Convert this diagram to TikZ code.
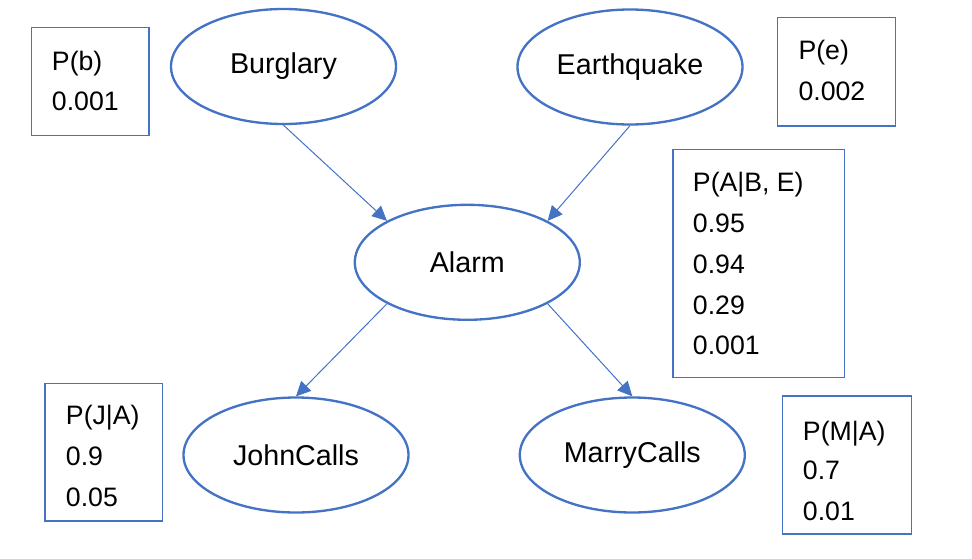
\documentclass[tikz,border=0pt]{standalone}
\usepackage{fontspec}
\setmainfont{Liberation Sans}
\usetikzlibrary{arrows.meta,shapes.geometric}
\definecolor{officeblue}{RGB}{68,114,196}
\begin{document}
\begin{tikzpicture}[x=0.75pt,y=-0.75pt,
  varnode/.style={ellipse,draw=officeblue,line width=1.75pt,minimum width=168.75pt,minimum height=86.25pt,inner sep=0pt,font=\fontsize{21.5pt}{25pt}\selectfont},
  cptbox/.style={rectangle,draw=officeblue,line width=1pt,inner sep=0pt},
  cpttext/.style={anchor=base west,inner sep=0pt,font=\fontsize{20pt}{24pt}\selectfont},
  edge/.style={draw=officeblue,line width=0.75pt,-{Triangle[length=11pt,width=10.5pt]}}]
\useasboundingbox (0,0) rectangle (972,558);
% variables
\node[varnode] (burglary) at (283.5,66.5) {Burglary};
\node[varnode] (earthquake) at (630,67) {Earthquake};
\node[varnode] (alarm) at (467.3,262.3) {Alarm};
\node[varnode] (john) at (296,455) {JohnCalls};
\node[varnode] (marry) at (632.3,455) {MarryCalls};
% edges
\draw[edge] (burglary.south) -- (alarm.north west);
\draw[edge] (earthquake.south) -- (alarm.north east);
\draw[edge] (alarm.south west) -- (john.north);
\draw[edge] (alarm.south east) -- (marry.north);
% CPT boxes
\node[cptbox,minimum width=87.98pt,minimum height=81pt] (boxB) at (90.35,81.7) {};
\node[cptbox,minimum width=88.5pt,minimum height=81.5pt] (boxE) at (836.7,71.65) {};
\node[cptbox,line width=1.2pt,minimum width=128.7pt,minimum height=171pt] (boxA) at (758.5,263.3) {};
\node[cptbox,minimum width=88pt,minimum height=103.3pt] (boxJ) at (103.65,452.15) {};
\node[cptbox,minimum width=96.75pt,minimum height=103.5pt] (boxM) at (847.2,465) {};
% CPT texts
\node[cpttext] (tB1) at (51.7,70) {P(b)};
\node[cpttext] (tB2) at (51.7,110) {0.001};
\node[cpttext] (tE1) at (798.3,59.3) {P(e)};
\node[cpttext] (tE2) at (798.3,100) {0.002};
\node[cpttext] (tA1) at (692.7,191.7) {P(A|B, E)};
\node[cpttext] (tA2) at (692.7,232.5) {0.95};
\node[cpttext] (tA3) at (692.7,273.3) {0.94};
\node[cpttext] (tA4) at (692.7,314.1) {0.29};
\node[cpttext] (tA5) at (692.7,354.9) {0.001};
\node[cpttext] (tJ1) at (65.7,424.3) {P(J|A)};
\node[cpttext] (tJ2) at (65.7,465.7) {0.9};
\node[cpttext] (tJ3) at (65.7,506.7) {0.05};
\node[cpttext] (tM1) at (802.7,440.7) {P(M|A)};
\node[cpttext] (tM2) at (802.7,479.3) {0.7};
\node[cpttext] (tM3) at (802.7,520) {0.01};
\end{tikzpicture}
\end{document}
